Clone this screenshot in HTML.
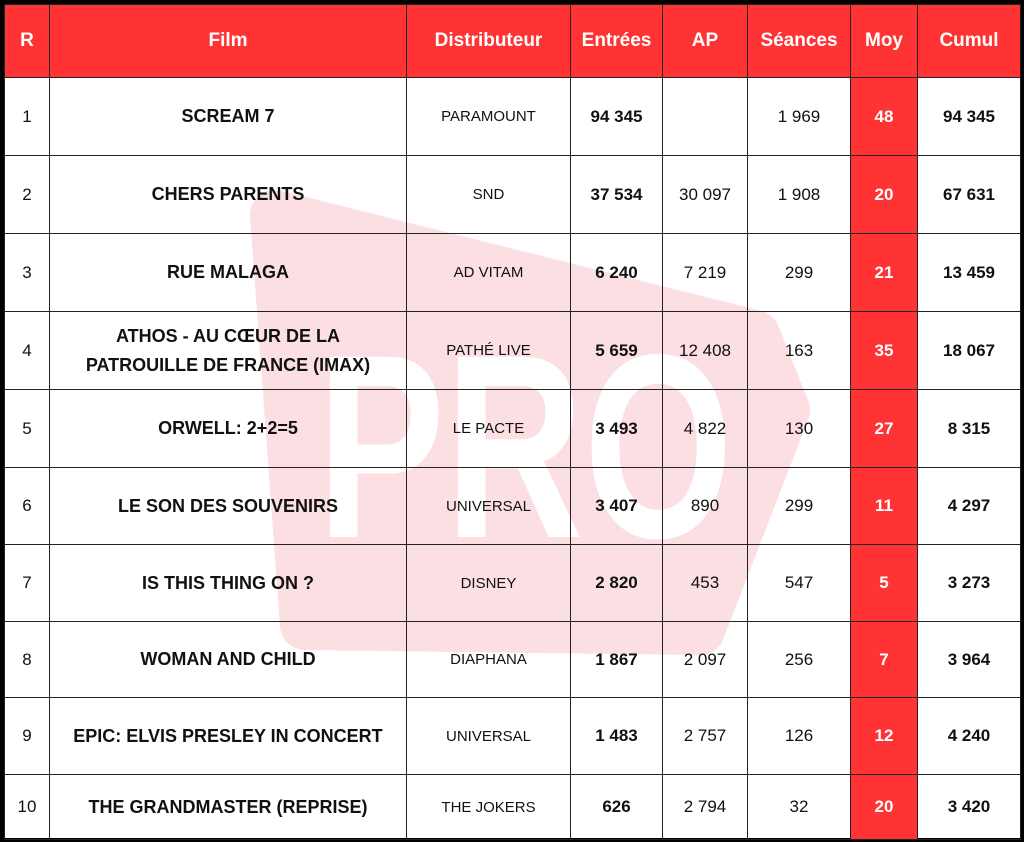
<!DOCTYPE html>
<html><head><meta charset="utf-8"><style>
html,body{margin:0;padding:0;background:#000;}
#wrap{position:relative;width:1024px;height:842px;background:#000;overflow:hidden;font-family:"Liberation Sans",sans-serif;}
#bg{position:absolute;left:4px;top:4px;width:1016px;height:834px;background:#fff;}
svg.wm{position:absolute;left:0;top:0;}
table{position:absolute;left:4px;top:4px;border-collapse:collapse;table-layout:fixed;}
td{border:1px solid #222;text-align:center;vertical-align:middle;padding:0;color:#111;font-size:17px;}
tr.h td{background:#ff3333;color:#fff;font-weight:bold;font-size:19px;}
td.b{font-weight:bold;}
td.m{background:#ff3333;color:#fff;font-weight:bold;}
td.d{font-size:15px;}
td.f{font-weight:bold;font-size:18px;line-height:29px;}
</style></head><body><div id="wrap">
<div id="bg"></div>
<svg class="wm" width="1024" height="842">
<path d="M275,215 L755,335 L785,410 L700,630 L305,625 Z" fill="#fbdfe2" stroke="#fbdfe2" stroke-width="50" stroke-linejoin="round"/>
<text x="317" y="537" font-family="Liberation Sans" font-weight="bold" font-size="262" fill="#fff" textLength="416" lengthAdjust="spacingAndGlyphs">PRO</text>
</svg>
<table>
<colgroup><col style="width:45px"><col style="width:357px"><col style="width:164px"><col style="width:92px"><col style="width:85px"><col style="width:103px"><col style="width:67px"><col style="width:103px"></colgroup>
<tr class="h" style="height:73px"><td>R</td><td>Film</td><td>Distributeur</td><td>Entrées</td><td>AP</td><td>Séances</td><td>Moy</td><td>Cumul</td></tr>
<tr style="height:78px"><td>1</td><td class="f">SCREAM 7</td><td class="d">PARAMOUNT</td><td class="b">94 345</td><td></td><td>1 969</td><td class="m">48</td><td class="b">94 345</td></tr>
<tr style="height:78px"><td>2</td><td class="f">CHERS PARENTS</td><td class="d">SND</td><td class="b">37 534</td><td>30 097</td><td>1 908</td><td class="m">20</td><td class="b">67 631</td></tr>
<tr style="height:78px"><td>3</td><td class="f">RUE MALAGA</td><td class="d">AD VITAM</td><td class="b">6 240</td><td>7 219</td><td>299</td><td class="m">21</td><td class="b">13 459</td></tr>
<tr style="height:78px"><td>4</td><td class="f">ATHOS - AU CŒUR DE LA<br>PATROUILLE DE FRANCE (IMAX)</td><td class="d">PATHÉ LIVE</td><td class="b">5 659</td><td>12 408</td><td>163</td><td class="m">35</td><td class="b">18 067</td></tr>
<tr style="height:78px"><td>5</td><td class="f">ORWELL: 2+2=5</td><td class="d">LE PACTE</td><td class="b">3 493</td><td>4 822</td><td>130</td><td class="m">27</td><td class="b">8 315</td></tr>
<tr style="height:77px"><td>6</td><td class="f">LE SON DES SOUVENIRS</td><td class="d">UNIVERSAL</td><td class="b">3 407</td><td>890</td><td>299</td><td class="m">11</td><td class="b">4 297</td></tr>
<tr style="height:77px"><td>7</td><td class="f">IS THIS THING ON ?</td><td class="d">DISNEY</td><td class="b">2 820</td><td>453</td><td>547</td><td class="m">5</td><td class="b">3 273</td></tr>
<tr style="height:76px"><td>8</td><td class="f">WOMAN AND CHILD</td><td class="d">DIAPHANA</td><td class="b">1 867</td><td>2 097</td><td>256</td><td class="m">7</td><td class="b">3 964</td></tr>
<tr style="height:77px"><td>9</td><td class="f">EPIC: ELVIS PRESLEY IN CONCERT</td><td class="d">UNIVERSAL</td><td class="b">1 483</td><td>2 757</td><td>126</td><td class="m">12</td><td class="b">4 240</td></tr>
<tr style="height:65px"><td>10</td><td class="f">THE GRANDMASTER (REPRISE)</td><td class="d">THE JOKERS</td><td class="b">626</td><td>2 794</td><td>32</td><td class="m">20</td><td class="b">3 420</td></tr>
</table>
</div></body></html>
